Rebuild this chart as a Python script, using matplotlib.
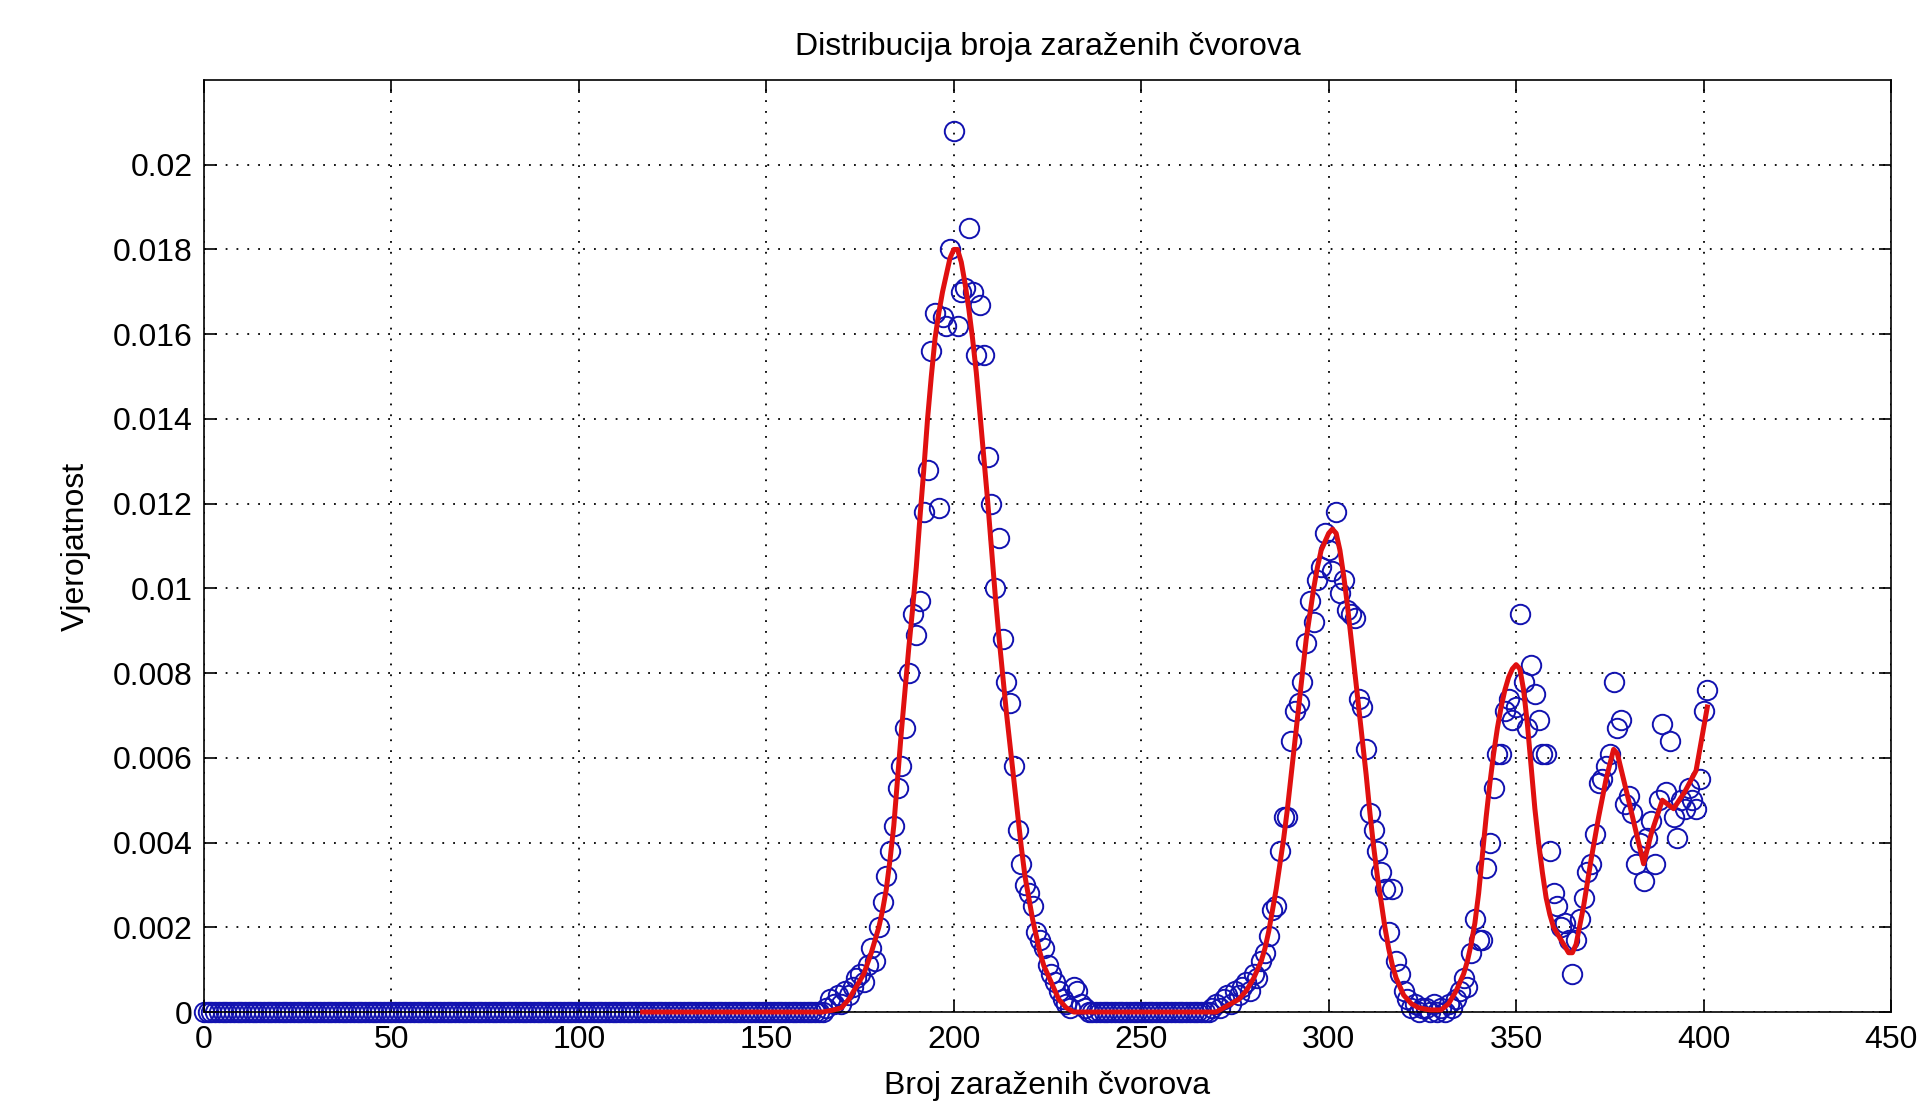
import matplotlib
matplotlib.use("Agg")
import matplotlib.pyplot as plt
import numpy as np

# ---------------- data ----------------
title_text = "Distribucija broja zaraženih čvorova"
xlabel_text = "Broj zaraženih čvorova"
ylabel_text = "Vjerojatnost"

x_ticks = [0, 50, 100, 150, 200, 250, 300, 350, 400, 450]
y_ticks = [0, 0.002, 0.004, 0.006, 0.008, 0.01, 0.012, 0.014, 0.016, 0.018, 0.02]

# observed probabilities for 0..165 infected nodes are all zero
blue_zero_count = 166
# observed probabilities for 166..235
blue_peak1 = [
    0.0001, 0.0003, 0.0002, 0.0004, 0.0002, 0.0005, 0.0004, 0.0006, 0.0008, 0.0009,   # 166-175
    0.0007, 0.0011, 0.0015, 0.0012, 0.0020, 0.0026, 0.0032, 0.0038, 0.0044, 0.0053,   # 176-185
    0.0058, 0.0067, 0.0080, 0.0094, 0.0089, 0.0097, 0.0118, 0.0128, 0.0156, 0.0165,   # 186-195
    0.0119, 0.0164, 0.0162, 0.0180, 0.0208, 0.0162, 0.0170, 0.0171, 0.0185, 0.0170,   # 196-205
    0.0155, 0.0167, 0.0155, 0.0131, 0.0120, 0.0100, 0.0112, 0.0088, 0.0078, 0.0073,   # 206-215
    0.0058, 0.0043, 0.0035, 0.0030, 0.0028, 0.0025, 0.0019, 0.0017, 0.0015, 0.0011,   # 216-225
    0.0009, 0.0007, 0.0005, 0.0003, 0.0002, 0.0001, 0.0006, 0.0005, 0.0002, 0.0001,   # 226-235
]
# observed probabilities for 236..268 are zero
blue_gap_count = 33
# observed probabilities for 269..401
blue_tail = [
    0.0001, 0.0002, 0.0001, 0.0003, 0.0004, 0.0002, 0.0005, 0.0004, 0.0006, 0.0007,   # 269-278
    0.0005, 0.0009, 0.0008, 0.0012, 0.0014, 0.0018, 0.0024, 0.0025, 0.0038, 0.0046,   # 279-288
    0.0046, 0.0064, 0.0071, 0.0073, 0.0078, 0.0087, 0.0097, 0.0092, 0.0102, 0.0105,   # 289-298
    0.0113, 0.0109, 0.0104, 0.0118, 0.0099, 0.0102, 0.0095, 0.0094, 0.0093, 0.0074,   # 299-308
    0.0072, 0.0062, 0.0047, 0.0043, 0.0038, 0.0033, 0.0029, 0.0019, 0.0029, 0.0012,   # 309-318
    0.0009, 0.0005, 0.0003, 0.0001, 0.0002, 0.0000, 0.0001, 0.0001, 0.0000, 0.0002,   # 319-328
    0.0000, 0.0001, 0.0000, 0.0002, 0.0001, 0.0003, 0.0005, 0.0008, 0.0006, 0.0014,   # 329-338
    0.0022, 0.0017, 0.0017, 0.0034, 0.0040, 0.0053, 0.0061, 0.0061, 0.0071, 0.0074,   # 339-348
    0.0069, 0.0072, 0.0094, 0.0078, 0.0067, 0.0082, 0.0075, 0.0069, 0.0061, 0.0061,   # 349-358
    0.0038, 0.0028, 0.0025, 0.0020, 0.0021, 0.0017, 0.0009, 0.0017, 0.0022, 0.0027,   # 359-368
    0.0033, 0.0035, 0.0042, 0.0054, 0.0055, 0.0058, 0.0061, 0.0078, 0.0067, 0.0069,   # 369-378
    0.0049, 0.0051, 0.0047, 0.0035, 0.0040, 0.0031, 0.0041, 0.0045, 0.0035, 0.0050,   # 379-388
    0.0068, 0.0052, 0.0064, 0.0046, 0.0041, 0.0050, 0.0048, 0.0053, 0.0050, 0.0048,   # 389-398
    0.0055, 0.0071, 0.0076,                                                           # 399-401
]

# smoothed (red) curve nodes
red_x = [117, 165, 168, 170, 172, 174, 176, 178, 180, 181, 182, 183, 184, 185, 186, 187,
         188, 189, 190, 191, 192, 193, 194, 195, 196, 197, 198, 199, 200, 201, 202, 203,
         204, 205, 206, 207, 208, 209, 210, 211, 212, 213, 214, 215, 216, 217, 218, 219,
         220, 221, 222, 223, 224, 225, 226, 228, 230, 232,
         270, 272, 274, 276, 278, 280, 282, 283, 284, 285, 286, 287, 288, 289, 290, 291,
         292, 293, 294, 295, 296, 297, 298, 299, 300, 301, 302, 303, 304, 305, 306, 307,
         308, 309, 310, 311, 312, 313, 314, 315, 316, 317, 318, 319, 320, 322, 324, 327,
         330, 332, 334, 336, 337, 338, 339, 340, 341, 342, 343, 344, 345, 346, 347, 348,
         349, 350, 351, 352, 353, 354, 355, 356, 357, 358, 359, 360, 362, 364, 365, 366,
         368, 370, 372, 374, 376, 377, 380, 384, 386, 389, 392, 395, 398, 401]
red_y = [0.0, 0.0, 0.00005, 0.0001, 0.0003, 0.0006, 0.0009, 0.0014, 0.0020, 0.0024, 0.0029,
         0.0036, 0.0044, 0.0055, 0.0066, 0.0076, 0.0086, 0.0095, 0.0105, 0.0117, 0.0128,
         0.0140, 0.0150, 0.0159, 0.0165, 0.0170, 0.0174, 0.0178, 0.0180, 0.0180, 0.0177,
         0.0172, 0.0166, 0.0159, 0.0151, 0.0141, 0.0131, 0.0121, 0.0110, 0.0099, 0.0089,
         0.0080, 0.0071, 0.0063, 0.0055, 0.0047, 0.0039, 0.0032, 0.0027, 0.0022, 0.0018,
         0.0014, 0.0011, 0.0009, 0.0007, 0.0003, 0.0001, 0.0,
         0.0, 0.0001, 0.0002, 0.0003, 0.0005, 0.0008, 0.0012, 0.0015, 0.0019, 0.0024,
         0.0029, 0.0035, 0.0041, 0.0048, 0.0056, 0.0064, 0.0072, 0.0080, 0.0088, 0.0094,
         0.0100, 0.0105, 0.0109, 0.0111, 0.0113, 0.0114, 0.0113, 0.0109, 0.0103, 0.0096,
         0.0088, 0.0080, 0.0072, 0.0064, 0.0056, 0.0047, 0.0039, 0.0032, 0.0026, 0.0020,
         0.0015, 0.0011, 0.0008, 0.0006, 0.0004, 0.0002, 0.0001, 0.00005,
         0.00005, 0.0002, 0.0005, 0.0009, 0.0012, 0.0016, 0.0021, 0.0028, 0.0037, 0.0046,
         0.0054, 0.0061, 0.0067, 0.0072, 0.0076, 0.0079, 0.0081, 0.0082, 0.0081, 0.0076,
         0.0068, 0.0058, 0.0048, 0.0040, 0.0033, 0.0027, 0.0023, 0.0020, 0.0017, 0.0014,
         0.0014, 0.0016, 0.0025, 0.0036, 0.0046, 0.0055, 0.0062, 0.0061, 0.0050, 0.0035,
         0.0042, 0.0050, 0.0048, 0.0052, 0.0057, 0.0072]

# ---------------- assemble ----------------
blue_y = [0.0] * blue_zero_count + blue_peak1 + [0.0] * blue_gap_count + blue_tail
blue_x = np.arange(len(blue_y))

plt.rcParams['font.family'] = ['Liberation Sans', 'DejaVu Sans']

fig = plt.figure(figsize=(19.30, 11.08), dpi=100)
ax = fig.add_axes([0.1057, 0.0866, 0.8741, 0.8412])

ax.plot(blue_x, blue_y, linestyle='none', marker='o', markersize=14,
        markerfacecolor='none', markeredgecolor='#1212b0', markeredgewidth=1.4,
        zorder=2, clip_on=False)
ax.plot(red_x, red_y, color='#e01010', linewidth=3.6, zorder=3, clip_on=False)

ax.set_xlim(0, 450)
ax.set_ylim(0, 0.022)
ax.set_xticks(x_ticks)
ax.set_yticks(y_ticks)
ax.set_xticklabels([f"{v:g}" for v in x_ticks])
ax.set_yticklabels([f"{v:g}" for v in y_ticks])

ax.grid(True, color='black', linestyle=(0, (1, 5)), linewidth=1.3)
ax.set_axisbelow(True)
ax.tick_params(axis='both', direction='in', length=9, width=1.2, labelsize=23,
               top=True, right=True, colors='black')
ax.tick_params(axis='x', pad=9)
ax.tick_params(axis='y', pad=8)
for s in ax.spines.values():
    s.set_linewidth(1.2)
    s.set_color('black')

ax.set_title(title_text, fontsize=23, pad=18)
ax.set_xlabel(xlabel_text, fontsize=23, labelpad=12)
ax.set_ylabel(ylabel_text, fontsize=23, labelpad=16)

fig.savefig("out.png", dpi=100, facecolor='white')
